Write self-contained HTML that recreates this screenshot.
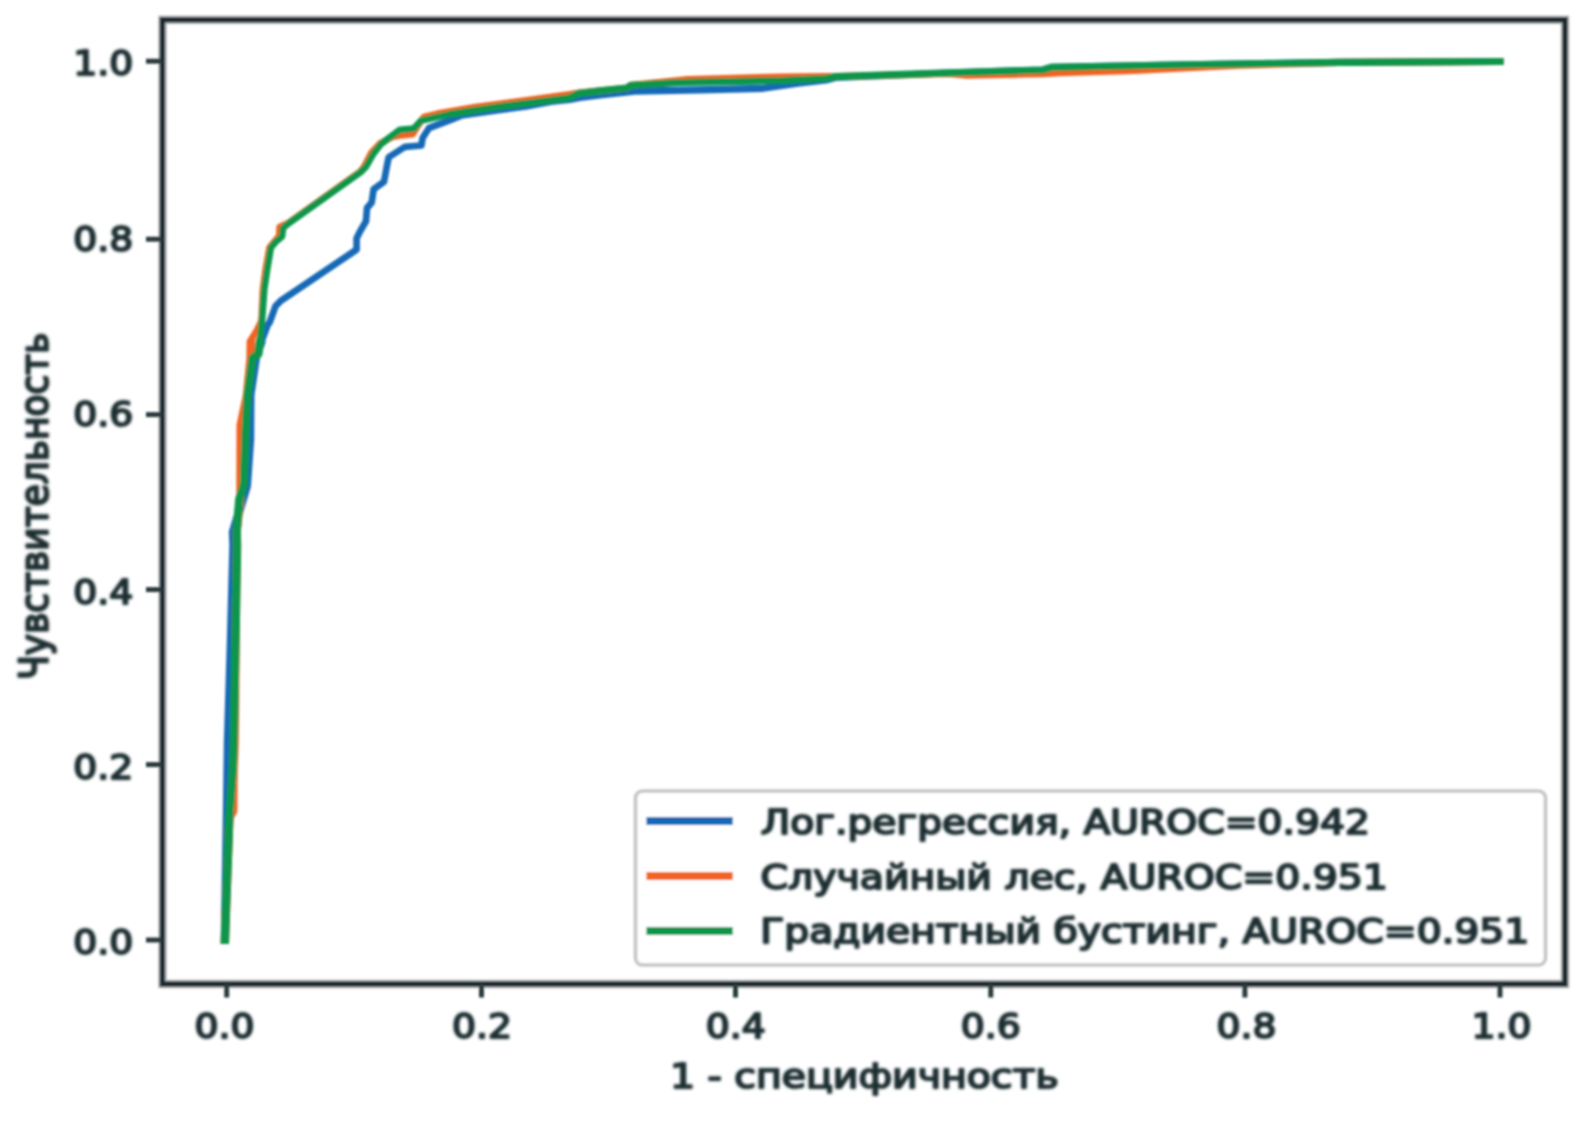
<!DOCTYPE html>
<html lang="ru"><head><meta charset="utf-8"><title>ROC</title>
<style>
html,body{margin:0;padding:0;background:#fff;}
body{width:1590px;height:1125px;overflow:hidden;}
svg{display:block;}
text{font-family:"DejaVu Sans","Liberation Sans",sans-serif;font-size:34px;fill:#1f2e31;stroke:#1f2e31;stroke-width:2.0px;stroke-linejoin:round;}
</style></head><body>
<svg width="1590" height="1125" viewBox="0 0 1590 1125">
<defs><filter id="b" x="-5%" y="-5%" width="110%" height="110%"><feGaussianBlur stdDeviation="1.25"/></filter>
<filter id="bt" x="-5%" y="-20%" width="110%" height="140%"><feGaussianBlur stdDeviation="1.5"/></filter></defs>
<rect width="1590" height="1125" fill="#fff"/>
<g filter="url(#b)">

<g fill="none" stroke-width="7.2" stroke-linejoin="round" stroke-linecap="square">
<path d="M463.0,115.0 L498.0,110.0 L525.8,106.3 L551.0,101.5 L569.8,99.5 L580.0,97.5 L600.0,95.0 L634.7,91.2 L700.0,89.8 L763.0,88.3 L797.7,83.2 L826.0,80.0 L835.5,77.5 L948.7,73.0 L1043.0,70.0 L1052.0,67.3 L1172.0,65.0 L1340.0,62.3 L1500.0,61.5 L1503.6,61.5" stroke="#1769b6" stroke-linecap="butt"/><path d="M262.0,340.0 L267.7,325.0 L269.8,322.0 L275.5,306.2 L281.0,300.6 L356.6,249.6 L356.6,238.3 L360.4,230.8 L366.0,221.3 L367.0,208.0 L371.7,202.5 L373.6,189.2 L384.0,181.7 L386.8,166.6 L388.7,157.2 L405.0,146.8 L421.4,145.5 L422.6,138.0 L429.0,128.0 L452.8,119.0 L463.0,115.0" stroke="#1769b6" stroke-width="6.7" stroke-linecap="round"/><path d="M224.8,943.9 L224.9,940.3 L227.0,815.0 L228.0,742.0 L231.0,640.0 L233.5,545.0 L233.0,532.0 L246.8,486.0 L250.0,440.0 L250.3,395.0 L256.0,357.0 L262.0,340.0" stroke="#1769b6" stroke-width="8.4" stroke-linecap="butt"/>
<path d="M437.7,113.8 L475.5,107.2 L513.2,102.2 L569.8,94.6 L578.6,93.0 L600.0,90.8 L627.0,88.0 L631.0,85.3 L687.5,79.6 L780.0,77.0 L826.0,76.6 L835.5,76.6 L948.7,73.5 L967.0,75.2 L1043.0,73.6 L1060.0,72.6 L1134.0,70.5 L1240.0,65.2 L1340.0,62.3 L1500.0,61.5 L1503.6,61.5" stroke="#f26322" stroke-linecap="butt"/><path d="M250.8,340.0 L256.5,331.0 L261.5,321.0 L263.0,289.2 L265.5,270.4 L269.5,247.7 L275.0,241.0 L279.3,236.0 L279.6,227.0 L288.7,222.8 L360.4,171.5 L364.5,166.0 L371.5,152.5 L380.0,143.5 L392.0,137.0 L400.0,135.5 L412.6,134.2 L419.0,124.0 L424.0,117.0 L428.0,116.0 L437.7,113.8" stroke="#f26322" stroke-width="6.7" stroke-linecap="round"/><path d="M224.8,943.9 L224.9,940.3 L229.4,818.0 L233.2,811.0 L233.6,770.0 L234.7,742.0 L236.0,600.0 L237.0,545.0 L236.6,532.0 L240.5,497.0 L240.7,425.0 L247.0,395.0 L250.6,358.0 L250.8,340.0" stroke="#f26322" stroke-width="8.4" stroke-linecap="butt"/>
<path d="M450.3,114.1 L500.6,106.5 L551.0,100.3 L569.8,97.7 L578.6,93.3 L600.0,90.8 L627.0,88.0 L631.0,85.3 L678.0,82.5 L780.0,80.6 L826.0,78.5 L835.5,76.6 L948.7,72.8 L1043.0,70.0 L1052.0,67.3 L1172.0,65.0 L1340.0,62.3 L1500.0,61.5 L1503.6,61.5" stroke="#07964c" stroke-linecap="butt"/><path d="M260.0,339.0 L262.0,320.0 L264.2,289.2 L267.0,270.4 L270.8,247.7 L275.5,242.0 L282.0,236.4 L283.0,228.0 L288.7,223.2 L360.4,172.3 L366.0,166.6 L373.6,153.4 L381.0,144.0 L400.0,129.8 L413.8,128.6 L421.4,120.4 L450.3,114.1" stroke="#07964c" stroke-width="6.7" stroke-linecap="round"/><path d="M224.8,943.9 L224.9,940.3 L229.4,815.0 L232.8,768.0 L233.8,740.0 L237.0,545.0 L236.6,532.0 L239.4,499.0 L244.0,484.0 L245.7,433.0 L247.5,395.5 L252.6,357.7 L258.3,354.0 L260.0,339.0" stroke="#07964c" stroke-width="8.4" stroke-linecap="butt"/>
</g>
<rect x="635.5" y="791" width="910" height="174" rx="7" ry="7" fill="#fff" fill-opacity="0.8" stroke="#c6c6c6" stroke-width="3.6"/>
<g stroke-width="7.8" stroke-linecap="butt">
<line x1="646.4" x2="732.8" y1="821" y2="821" stroke="#1769b6"/>
<line x1="646.4" x2="732.8" y1="876" y2="876" stroke="#f26322"/>
<line x1="646.4" x2="732.8" y1="931" y2="931" stroke="#07964c"/>
</g>
<rect x="162.6" y="19.8" width="1402.4" height="964.2" fill="none" stroke="#b9bcbc" stroke-width="8.6"/>
<rect x="162.4" y="19.8" width="1402.6" height="964.2" fill="none" stroke="#1c2c30" stroke-width="5.4"/>
<g stroke="#2a3a3d" stroke-width="5">
<line x1="226.7" x2="226.7" y1="984" y2="997.5"/>
<line x1="146" x2="162" y1="940.0" y2="940.0"/>
<line x1="481.5" x2="481.5" y1="984" y2="997.5"/>
<line x1="146" x2="162" y1="764.6" y2="764.6"/>
<line x1="735.5" x2="735.5" y1="984" y2="997.5"/>
<line x1="146" x2="162" y1="589.6" y2="589.6"/>
<line x1="990.8" x2="990.8" y1="984" y2="997.5"/>
<line x1="146" x2="162" y1="414.6" y2="414.6"/>
<line x1="1244.9" x2="1244.9" y1="984" y2="997.5"/>
<line x1="146" x2="162" y1="239.2" y2="239.2"/>
<line x1="1500.0" x2="1500.0" y1="984" y2="997.5"/>
<line x1="146" x2="162" y1="61.2" y2="61.2"/>
</g>
</g>
<g filter="url(#bt)">
<text transform="translate(224.5,1038.3) scale(1.11,1)" text-anchor="middle" >0.0</text>
<text transform="translate(133.3,954.4) scale(1.11,1)" text-anchor="end" >0.0</text>
<text transform="translate(482.0,1038.3) scale(1.11,1)" text-anchor="middle" >0.2</text>
<text transform="translate(133.3,778.7) scale(1.11,1)" text-anchor="end" >0.2</text>
<text transform="translate(735.7,1038.3) scale(1.11,1)" text-anchor="middle" >0.4</text>
<text transform="translate(133.3,603.5) scale(1.11,1)" text-anchor="end" >0.4</text>
<text transform="translate(990.8,1038.3) scale(1.11,1)" text-anchor="middle" >0.6</text>
<text transform="translate(133.3,426.0) scale(1.11,1)" text-anchor="end" >0.6</text>
<text transform="translate(1246.4,1038.3) scale(1.11,1)" text-anchor="middle" >0.8</text>
<text transform="translate(133.3,250.6) scale(1.11,1)" text-anchor="end" >0.8</text>
<text transform="translate(1501.6,1038.3) scale(1.11,1)" text-anchor="middle" >1.0</text>
<text transform="translate(133.3,75.3) scale(1.11,1)" text-anchor="end" >1.0</text>
<text transform="translate(864.3,1087.7) scale(1.1594,1)" text-anchor="middle" >1 - специфичность</text>
<text transform="translate(47.3,506.2) scale(1.1330,1.0589) rotate(-90)" text-anchor="middle">Чувствительность</text>
<text transform="translate(760.8,833.7) scale(1.1552,1)" text-anchor="start" >Лог.регрессия, AUROC=0.942</text>
<text transform="translate(760.6,888.5) scale(1.1584,1)" text-anchor="start" >Случайный лес, AUROC=0.951</text>
<text transform="translate(760.2,943.2) scale(1.1562,1)" text-anchor="start" >Градиентный бустинг, AUROC=0.951</text>
</g>
</svg></body></html>
